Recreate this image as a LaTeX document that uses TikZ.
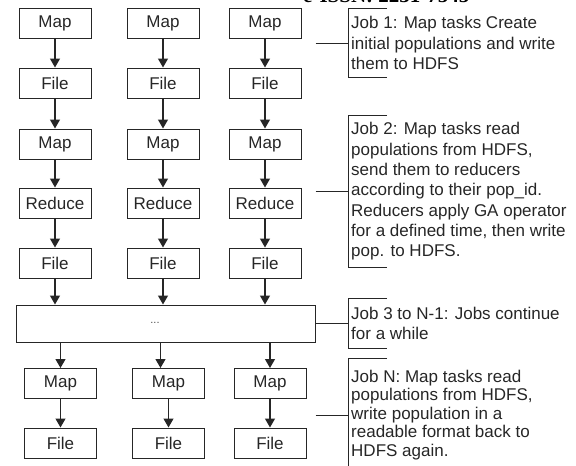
\documentclass[tikz,border=0pt]{standalone}
\usepackage{fontspec}
\setmainfont{Liberation Sans}
\newfontfamily\headfont{Liberation Serif}
\usepackage{tikz}
\usetikzlibrary{positioning, arrows.meta}
\usepackage{xcolor}

\begin{document}
\begin{tikzpicture}[x=1pt, y=-1pt,
    box/.style={draw=black!85, line width=1pt, minimum width=72, minimum height=30,
        inner sep=0pt, text=black!85, font=\fontsize{17}{20}\selectfont},
    flow/.style={-{Triangle[width=10pt,length=9pt]}, line width=1.2pt, black!85},
    note/.style={anchor=west, align=left, inner xsep=3pt, inner ysep=0pt,
        text=black!85, font=\fontsize{17}{20.3}\selectfont},
    bracket/.style={line width=1pt, black!85},
    link/.style={line width=1pt, black!85}]
    \useasboundingbox (0,0) rectangle (576,466);
    \clip (0,0) rectangle (576,466);

    % page header, cut off at the top
    \node[anchor=base west, inner sep=0pt, font=\headfont\bfseries\fontsize{21}{24}\selectfont]
        (head) at (303,2.5) {e-ISSN: 2231-7545};

    % Job 1
    \node[box] (mapA1) at (55,23) {Map};
    \node[box] (mapB1) at (163,23) {Map};
    \node[box] (mapC1) at (265,23) {Map};
    \node[box] (fileA1) at (55,83) {File};
    \node[box] (fileB1) at (163,83) {File};
    \node[box] (fileC1) at (265,83) {File};

    % Job 2
    \node[box] (mapA2) at (55,144) {Map};
    \node[box] (mapB2) at (163,144) {Map};
    \node[box] (mapC2) at (265,144) {Map};
    \node[box] (redA) at (55,203) {Reduce};
    \node[box] (redB) at (163,203) {Reduce};
    \node[box] (redC) at (265,203) {Reduce};
    \node[box] (fileA2) at (55,263) {File};
    \node[box] (fileB2) at (163,263) {File};
    \node[box] (fileC2) at (265,263) {File};

    % Job 3 to N-1
    \node[box, minimum width=299, minimum height=37] (more) at (165.5,323.5) {};
    \node[text=black!70, font=\fontsize{11}{13}\selectfont] (dots) at (155,323) {...};

    % Job N
    \node[box] (mapA3) at (60.5,383.5) {Map};
    \node[box] (mapB3) at (168.5,383.5) {Map};
    \node[box] (mapC3) at (270,383.5) {Map};
    \node[box] (fileA3) at (60.5,443) {File};
    \node[box] (fileB3) at (168.5,443) {File};
    \node[box] (fileC3) at (270,443) {File};

    \draw[flow] (mapA1) -- (fileA1);
    \draw[flow] (mapB1) -- (fileB1);
    \draw[flow] (mapC1) -- (fileC1);
    \draw[flow] (fileA1) -- (mapA2);
    \draw[flow] (fileB1) -- (mapB2);
    \draw[flow] (fileC1) -- (mapC2);
    \draw[flow] (mapA2) -- (redA);
    \draw[flow] (mapB2) -- (redB);
    \draw[flow] (mapC2) -- (redC);
    \draw[flow] (redA) -- (fileA2);
    \draw[flow] (redB) -- (fileB2);
    \draw[flow] (redC) -- (fileC2);
    \draw[flow] (fileA2) -- (fileA2 |- more.north);
    \draw[flow] (fileB2) -- (fileB2 |- more.north);
    \draw[flow] (fileC2) -- (fileC2 |- more.north);
    \draw[flow] (more.south -| mapA3) -- (mapA3);
    \draw[flow] ([xshift=-8pt]more.south -| mapB3) -- ([xshift=-8pt]mapB3.north);
    \draw[flow] (more.south -| mapC3) -- (mapC3);
    \draw[flow] (mapA3) -- (fileA3);
    \draw[flow] (mapB3) -- (fileB3);
    \draw[flow] (mapC3) -- (fileC3);

    % notes on the right
    \node[note, minimum height=69] (job1) at (348,43)
        {Job 1: Map tasks Create\\initial populations and write\\them to HDFS};
    \node[note, minimum height=151] (job2) at (348,191.5)
        {Job 2: Map tasks read\\populations from HDFS,\\send them to reducers\\according to their pop\_id.\\Reducers apply GA operator\\for a defined time, then write\\pop. to HDFS.};
    \node[note, minimum height=49] (job3) at (348,323.5)
        {Job 3 to N-1: Jobs continue\\for a while};
    \node[note, minimum height=112, font=\fontsize{17}{18.5}\selectfont] (job4) at (348,415)
        {Job N: Map tasks read\\populations from HDFS,\\write population in a\\readable format back to\\HDFS again.};

    \draw[bracket] ([xshift=39pt]job1.north west) -- (job1.north west) -- (job1.south west) -- ([xshift=39pt]job1.south west);
    \draw[bracket] ([xshift=39pt]job2.north west) -- (job2.north west) -- (job2.south west) -- ([xshift=39pt]job2.south west);
    \draw[bracket] ([xshift=39pt]job3.north west) -- (job3.north west) -- (job3.south west) -- ([xshift=39pt]job3.south west);
    \draw[bracket] ([xshift=39pt]job4.north west) -- (job4.north west) -- (job4.south west) -- ([xshift=39pt]job4.south west);

    \draw[link] (more.east |- job1.west) -- (job1.west);
    \draw[link] (more.east |- job2.west) -- (job2.west);
    \draw[link] (more.east |- job3.west) -- (job3.west);
    \draw[link] (more.east |- job4.west) -- (job4.west);
\end{tikzpicture}
\end{document}
